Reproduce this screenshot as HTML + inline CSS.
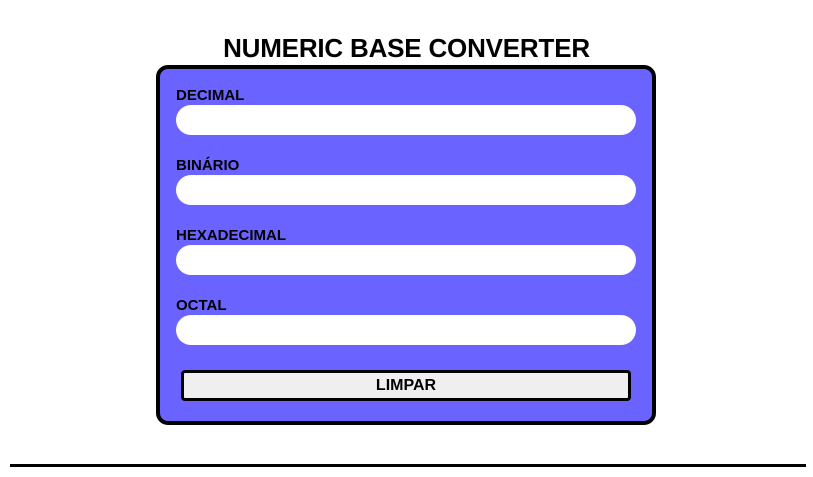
<!DOCTYPE html>
<html><head><style>
body{margin:0;width:813px;height:477px;background:#fff;font-family:"Liberation Sans",sans-serif;position:relative;overflow:hidden}
.t{position:absolute;left:0;width:813px;top:32px;text-align:center;font-weight:bold;font-size:26px;line-height:32px;color:#000;letter-spacing:-0.2px}
.card{position:absolute;left:156px;top:65px;width:492px;height:352px;border:4px solid #000;border-radius:12px;background:#6b63ff}
.l{position:absolute;left:176px;font-weight:bold;font-size:15px;line-height:16px;color:#000}
.i{position:absolute;left:176px;width:460px;height:30px;border-radius:15px;background:#fff}
.b{position:absolute;left:181px;top:370px;width:444px;height:25px;border:3px solid #000;border-radius:4px;background:#efefef;text-align:center;font-weight:bold;font-size:16px;line-height:25px}
.hr{position:absolute;left:10px;top:464px;width:796px;height:3px;background:#000}
</style></head><body>
<div class="t">NUMERIC BASE CONVERTER</div>
<div class="card"></div>
<div class="l" style="top:88px">DECIMAL</div><div class="i" style="top:105px"></div>
<div class="l" style="top:158px">BINÁRIO</div><div class="i" style="top:175px"></div>
<div class="l" style="top:228px">HEXADECIMAL</div><div class="i" style="top:245px"></div>
<div class="l" style="top:298px">OCTAL</div><div class="i" style="top:315px"></div>
<div class="b">LIMPAR</div>
<div class="hr"></div>
</body></html>
